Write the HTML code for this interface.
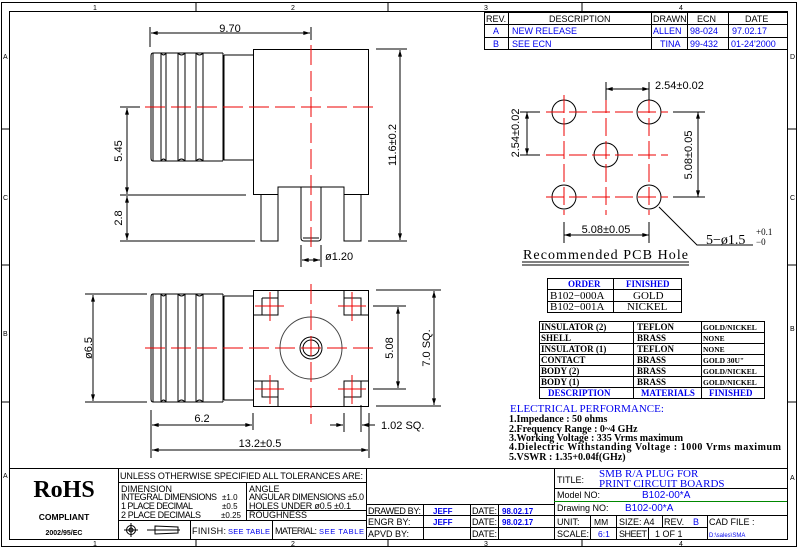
<!DOCTYPE html>
<html><head><meta charset="utf-8"><style>
html,body{margin:0;padding:0;background:#fff;}
svg{display:block;}
.s{font-family:"Liberation Sans",sans-serif;}
.r{font-family:"Liberation Serif",serif;font-weight:bold;}
</style></head><body>
<svg width="798" height="548" viewBox="0 0 798 548" xmlns="http://www.w3.org/2000/svg">
<defs>
<marker id="a" viewBox="0 0 10 6" refX="10" refY="3" markerWidth="7" markerHeight="4" orient="auto-start-reverse" markerUnits="userSpaceOnUse"><path d="M0,0 L10,3 L0,6 z" fill="#000"/></marker>
</defs>
<g fill="none" stroke="#000" stroke-width="1">
<rect x="1.5" y="2.5" width="795" height="544"/>
<rect x="9.5" y="11.5" width="778" height="528"/>
<line x1="196" y1="2" x2="196" y2="11"/><line x1="388" y1="2" x2="388" y2="11"/><line x1="582" y1="2" x2="582" y2="11"/>
<line x1="196" y1="540" x2="196" y2="547"/><line x1="388" y1="540" x2="388" y2="547"/><line x1="582" y1="540" x2="582" y2="547"/>
<line x1="1" y1="129" x2="9" y2="129"/><line x1="1" y1="265" x2="9" y2="265"/><line x1="1" y1="402" x2="9" y2="402"/>
<line x1="788" y1="129" x2="797" y2="129"/><line x1="788" y1="265" x2="797" y2="265"/><line x1="788" y1="402" x2="797" y2="402"/>
</g>
<g class="s" font-size="7" fill="#000">
<text x="93" y="10">1</text><text x="291" y="10">2</text><text x="484" y="10">3</text><text x="679" y="10">4</text>
<text x="93" y="546">1</text><text x="291" y="546">2</text><text x="484" y="546">3</text><text x="679" y="546">4</text>
<text x="3" y="59">A</text><text x="3" y="200">C</text><text x="3" y="336">B</text><text x="3" y="478">A</text>
<text x="790" y="59">D</text><text x="790" y="200">C</text><text x="790" y="331">B</text><text x="790" y="480">A</text>
</g>

<g fill="none" stroke="#000">
<rect x="484.5" y="12.5" width="303" height="37"/>
<line x1="484" y1="24.5" x2="787" y2="24.5"/><line x1="484" y1="37.5" x2="787" y2="37.5"/>
<line x1="508.5" y1="12" x2="508.5" y2="50"/><line x1="651.5" y1="12" x2="651.5" y2="50"/><line x1="687.5" y1="12" x2="687.5" y2="50"/><line x1="728.5" y1="12" x2="728.5" y2="50"/>
</g>
<g class="s" font-size="9">
<text x="486" y="22">REV.</text><text x="549" y="22">DESCRIPTION</text><text x="653" y="22">DRAWN</text><text x="697" y="22">ECN</text><text x="745" y="22">DATE</text>
<g fill="#0000ee"><text x="493" y="34">A</text><text x="512" y="34">NEW RELEASE</text><text x="653" y="34">ALLEN</text><text x="690" y="34">98-024</text><text x="732" y="34">97.02.17</text>
<text x="493" y="47">B</text><text x="512" y="47">SEE ECN</text><text x="660" y="47">TINA</text><text x="690" y="47">99-432</text><text x="731" y="47">01-24'2000</text></g>
</g>

<g fill="none" stroke="#000">
<circle cx="564" cy="112" r="12"/><circle cx="649" cy="112" r="12"/><circle cx="606" cy="155" r="12"/><circle cx="564" cy="197" r="12"/><circle cx="649" cy="197" r="12"/>
</g>
<g stroke="#e00" stroke-dasharray="18,5">
<line x1="546" y1="112" x2="668" y2="112"/><line x1="546" y1="155" x2="668" y2="155"/><line x1="546" y1="197" x2="668" y2="197"/>
<line x1="564" y1="95" x2="564" y2="215"/><line x1="606" y1="95" x2="606" y2="215"/><line x1="649" y1="95" x2="649" y2="215"/>
</g>
<g stroke="#000" fill="none">
<line x1="606" y1="82" x2="606" y2="100"/><line x1="649" y1="82" x2="649" y2="100"/>
<line x1="606" y1="89" x2="649" y2="89" marker-start="url(#a)" marker-end="url(#a)"/>
<line x1="520" y1="112" x2="540" y2="112"/><line x1="520" y1="155" x2="540" y2="155"/>
<line x1="527" y1="112" x2="527" y2="155" marker-start="url(#a)" marker-end="url(#a)"/>
<line x1="673" y1="112" x2="705" y2="112"/><line x1="673" y1="197" x2="705" y2="197"/>
<line x1="698" y1="112" x2="698" y2="197" marker-start="url(#a)" marker-end="url(#a)"/>
<line x1="564" y1="222" x2="564" y2="243"/><line x1="649" y1="222" x2="649" y2="243"/>
<line x1="564" y1="235" x2="649" y2="235" marker-start="url(#a)" marker-end="url(#a)"/>
<polyline points="659,207 697,245 753,245"/>
<line x1="522" y1="262" x2="689" y2="262"/><line x1="522" y1="265" x2="689" y2="265"/>
</g>
<g class="s" font-size="11">
<text x="655" y="89">2.54±0.02</text>
<text transform="translate(519,133) rotate(-90)" text-anchor="middle">2.54±0.02</text>
<text transform="translate(692,155) rotate(-90)" text-anchor="middle">5.08±0.05</text>
<text x="606" y="233" text-anchor="middle">5.08±0.05</text>
</g>
<text x="706" y="244" font-family="Liberation Serif,serif" font-size="14">5−ø1.5</text>
<text x="756" y="235" font-family="Liberation Serif,serif" font-size="9">+0.1</text>
<text x="756" y="245" font-family="Liberation Serif,serif" font-size="9">−0</text>
<text x="523" y="259" font-family="Liberation Serif,serif" font-size="14" textLength="165">Recommended PCB Hole</text>

<g fill="none" stroke="#000">
<line x1="150" y1="27" x2="150" y2="47"/><line x1="311" y1="27" x2="311" y2="40"/>
<line x1="151" y1="33" x2="310" y2="33" marker-start="url(#a)" marker-end="url(#a)"/>
<rect x="253.5" y="49.5" width="115" height="145" fill="#fff"/>
<path d="M153,53 h70 M153,161 h70 M151,56 q0,-3 2,-3 M151,158 q0,3 2,3 M151,56 V158" />
<path d="M153,53 V161 M161,53 V161 M166,53 V161 M178,53 V161 M185,53 V161 M196,53 V161 M203,53 V161 M223,53 V161"/>
<path d="M161,53 q2.5,4 5,0 M178,53 q3.5,4 7,0 M196,53 q3.5,4 7,0 M161,161 q2.5,-4 5,0 M178,161 q3.5,-4 7,0 M196,161 q3.5,-4 7,0"/>
<path d="M224,55 H253 M224,160 H253 M224,55 V160"/>
<path d="M261,195 V241 H278 V187 H344 V241 H361 V195" fill="#fff"/>
<path d="M301,187 V238 q0,3 3,3 H318 q3,0 3,-3 V187"/>
<line x1="303" y1="238" x2="319" y2="238"/>
<line x1="120" y1="107" x2="140" y2="107"/><line x1="120" y1="195" x2="246" y2="195"/><line x1="120" y1="241" x2="255" y2="241"/>
<line x1="127" y1="108" x2="127" y2="194" marker-start="url(#a)" marker-end="url(#a)"/>
<line x1="127" y1="196" x2="127" y2="240" marker-start="url(#a)" marker-end="url(#a)"/>
<line x1="376" y1="49" x2="407" y2="49"/><line x1="368" y1="241" x2="407" y2="241"/>
<line x1="400" y1="50" x2="400" y2="240" marker-start="url(#a)" marker-end="url(#a)"/>
<line x1="301" y1="245" x2="301" y2="267"/><line x1="321" y1="245" x2="321" y2="267"/>
<line x1="302" y1="260" x2="320" y2="260" marker-start="url(#a)" marker-end="url(#a)"/>
</g>
<g stroke="#e00" stroke-dasharray="20,6">
<line x1="145" y1="107" x2="374" y2="107"/><line x1="311" y1="45" x2="311" y2="247"/>
</g>
<g class="s" font-size="11">
<text x="230" y="32" text-anchor="middle">9.70</text>
<text transform="translate(122,151) rotate(-90)" text-anchor="middle">5.45</text>
<text transform="translate(122,218) rotate(-90)" text-anchor="middle">2.8</text>
<text transform="translate(396,145) rotate(-90)" text-anchor="middle">11.6±0.2</text>
<text x="325" y="260">ø1.20</text>
</g>

<g fill="none" stroke="#000">
<path d="M153,294 h70 M153,402 h70 M151,297 q0,-3 2,-3 M151,399 q0,3 2,3 M151,297 V399"/>
<path d="M153,294 V402 M161,294 V402 M166,294 V402 M178,294 V402 M185,294 V402 M196,294 V402 M203,294 V402 M223,294 V402"/>
<path d="M161,294 q2.5,4 5,0 M178,294 q3.5,4 7,0 M196,294 q3.5,4 7,0 M161,402 q2.5,-4 5,0 M178,402 q3.5,-4 7,0 M196,402 q3.5,-4 7,0"/>
<path d="M224,296 H253 M224,400 H253 M224,296 V400"/>
<rect x="253.5" y="290.5" width="115" height="116"/>
<path d="M278,290 V315 H253 M262,298 H278 M262,298 V315"/>
<path d="M344,290 V315 H369 M344,298 H361 V315"/>
<path d="M278,407 V381 H253 M262,381 V397 H278"/>
<path d="M344,407 V381 H369 M344,397 H361 V381"/>
<circle cx="311" cy="348" r="31" stroke="#444"/>
<circle cx="311" cy="348" r="11"/><circle cx="311" cy="348" r="8"/>
<line x1="85" y1="294" x2="147" y2="294"/><line x1="85" y1="402" x2="147" y2="402"/>
<line x1="93" y1="295" x2="93" y2="401" marker-start="url(#a)" marker-end="url(#a)"/>
<line x1="373" y1="306" x2="406" y2="306"/><line x1="373" y1="389" x2="406" y2="389"/>
<line x1="398" y1="307" x2="398" y2="388" marker-start="url(#a)" marker-end="url(#a)"/>
<line x1="376" y1="290" x2="441" y2="290"/><line x1="376" y1="406" x2="441" y2="406"/>
<line x1="434" y1="291" x2="434" y2="405" marker-start="url(#a)" marker-end="url(#a)"/>
<line x1="151" y1="410" x2="151" y2="458"/><line x1="253" y1="413" x2="253" y2="430"/><line x1="369" y1="413" x2="369" y2="458"/>
<line x1="152" y1="425" x2="252" y2="425" marker-start="url(#a)" marker-end="url(#a)"/>
<line x1="152" y1="450" x2="368" y2="450" marker-start="url(#a)" marker-end="url(#a)"/>
<line x1="344" y1="413" x2="344" y2="432"/><line x1="361" y1="405" x2="361" y2="432"/>
<line x1="330" y1="425" x2="343" y2="425" marker-end="url(#a)"/>
<line x1="375" y1="425" x2="362" y2="425" marker-end="url(#a)"/>
</g>
<g stroke="#e00">
<g stroke-dasharray="20,6"><line x1="145" y1="348" x2="374" y2="348"/><line x1="311" y1="284" x2="311" y2="424"/></g>
<path d="M255,306 H284 M270,292 V321 M338,306 H366 M352,292 V321 M255,389 H284 M270,375 V404 M338,389 H366 M352,375 V404"/>
</g>
<g class="s" font-size="11">
<text transform="translate(92,348) rotate(-90)" text-anchor="middle">ø6.5</text>
<text transform="translate(393,348) rotate(-90)" text-anchor="middle">5.08</text>
<text transform="translate(430,348) rotate(-90)" text-anchor="middle">7.0  SQ.</text>
<text x="202" y="422" text-anchor="middle">6.2</text>
<text x="260" y="447" text-anchor="middle">13.2±0.5</text>
<text x="381" y="429">1.02  SQ.</text>
</g>

<g fill="none" stroke="#000">
<rect x="547.5" y="278.5" width="134" height="34"/>
<line x1="547" y1="289.5" x2="681" y2="289.5"/><line x1="547" y1="301.5" x2="681" y2="301.5"/><line x1="613.5" y1="278" x2="613.5" y2="312"/>
<rect x="539.5" y="321.5" width="225" height="77"/>
<line x1="539" y1="332.5" x2="764" y2="332.5"/><line x1="539" y1="343.5" x2="764" y2="343.5"/><line x1="539" y1="354.5" x2="764" y2="354.5"/><line x1="539" y1="365.5" x2="764" y2="365.5"/><line x1="539" y1="376.5" x2="764" y2="376.5"/><line x1="539" y1="387.5" x2="764" y2="387.5"/>
<line x1="633.5" y1="321" x2="633.5" y2="398"/><line x1="701.5" y1="321" x2="701.5" y2="398"/>
</g>
<g class="r" font-size="9">
<text x="568" y="287" fill="#0000ee">ORDER</text><text x="626" y="287" fill="#0000ee">FINISHED</text>
<g font-weight="normal" font-size="11"><text x="550" y="299">B102−000A</text><text x="633" y="299">GOLD</text>
<text x="550" y="310">B102−001A</text><text x="627" y="310">NICKEL</text></g>
<text x="541" y="330">INSULATOR (2)</text><text x="637" y="330">TEFLON</text><text x="703" y="330" font-size="7.5">GOLD/NICKEL</text>
<text x="541" y="341">SHELL</text><text x="637" y="341">BRASS</text><text x="703" y="341" font-size="7.5">NONE</text>
<text x="541" y="352">INSULATOR (1)</text><text x="637" y="352">TEFLON</text><text x="703" y="352" font-size="7.5">NONE</text>
<text x="541" y="363">CONTACT</text><text x="637" y="363">BRASS</text><text x="703" y="363" font-size="7.5">GOLD 30U"</text>
<text x="541" y="374">BODY (2)</text><text x="637" y="374">BRASS</text><text x="703" y="374" font-size="7.5">GOLD/NICKEL</text>
<text x="541" y="385">BODY (1)</text><text x="637" y="385">BRASS</text><text x="703" y="385" font-size="7.5">GOLD/NICKEL</text>
<g fill="#0000ee"><text x="548" y="396">DESCRIPTION</text><text x="641" y="396">MATERIALS</text><text x="709" y="396">FINISHED</text></g>
</g>
<g font-family="Liberation Serif,serif" font-size="10" font-weight="bold">
<text x="510" y="412" fill="#0000ee" font-weight="normal" font-size="11">ELECTRICAL PERFORMANCE:</text>
<text x="509" y="422">1.Impedance : 50 ohms</text>
<text x="509" y="432">2.Frequency Range : 0~4 GHz</text>
<text x="509" y="441">3.Working Voltage : 335 Vrms maximum</text>
<text x="509" y="450" textLength="272">4.Dielectric Withstanding Voltage : 1000 Vrms maximum</text>
<text x="509" y="460">5.VSWR : 1.35+0.04f(GHz)</text>
</g>

<g fill="none" stroke="#000">
<line x1="9" y1="468.5" x2="787" y2="468.5"/>
<line x1="118.5" y1="468" x2="118.5" y2="540"/><line x1="366.5" y1="468" x2="366.5" y2="540"/><line x1="554.5" y1="468" x2="554.5" y2="540"/>
<line x1="118" y1="482.5" x2="366" y2="482.5"/><line x1="246.5" y1="482" x2="246.5" y2="520"/>
<line x1="246" y1="510.5" x2="366" y2="510.5"/><line x1="118" y1="520.5" x2="366" y2="520.5"/>
<line x1="190.5" y1="520" x2="190.5" y2="540"/><line x1="272.5" y1="520" x2="272.5" y2="540"/>
<line x1="366" y1="504.5" x2="554" y2="504.5"/><line x1="366" y1="515.5" x2="554" y2="515.5"/><line x1="366" y1="527.5" x2="554" y2="527.5"/>
<line x1="423.5" y1="504" x2="423.5" y2="540"/><line x1="470.5" y1="504" x2="470.5" y2="540"/><line x1="498.5" y1="504" x2="498.5" y2="540"/>
<line x1="554" y1="488.5" x2="787" y2="488.5"/><line x1="554" y1="501.5" x2="787" y2="501.5" stroke="#080"/>
<line x1="554" y1="515.5" x2="787" y2="515.5"/><line x1="554" y1="527.5" x2="707" y2="527.5"/>
<line x1="590.5" y1="515" x2="590.5" y2="540"/><line x1="616.5" y1="515" x2="616.5" y2="540"/><line x1="662.5" y1="515" x2="662.5" y2="527"/><line x1="648.5" y1="527" x2="648.5" y2="540"/><line x1="707.5" y1="515" x2="707.5" y2="540"/>
<circle cx="131" cy="530" r="4.5"/><circle cx="131" cy="530" r="2"/><path d="M124,530 H138 M131,523 V537 M147,530 H180 M155,526 L178,527 V533 L155,534 Z"/>
</g>
<text x="64" y="497" class="r" font-size="24" text-anchor="middle">RoHS</text>
<text x="64" y="520" class="s" font-weight="bold" font-size="8.5" text-anchor="middle">COMPLIANT</text>
<text x="64" y="535" class="s" font-weight="bold" font-size="7" text-anchor="middle">2002/95/EC</text>
<g class="s" font-size="9">
<text x="120" y="479" textLength="243">UNLESS OTHERWISE SPECIFIED ALL TOLERANCES ARE:</text>
<text x="121" y="492">DIMENSION</text>
<text x="121" y="500" textLength="96">INTEGRAL DIMENSIONS</text><text x="222" y="500" font-size="8">±1.0</text>
<text x="121" y="509" textLength="72">1 PLACE   DECIMAL</text><text x="222" y="509" font-size="8">±0.5</text>
<text x="121" y="518" textLength="80">2 PLACE   DECIMALS</text><text x="221" y="518" font-size="8">±0.25</text>
<text x="249" y="492">ANGLE</text>
<text x="249" y="500" textLength="115">ANGULAR DIMENSIONS ±5.0</text>
<text x="249" y="509" textLength="102">HOLES UNDER ø0.5 ±0.1</text>
<text x="249" y="518">ROUGHNESS</text>
<text x="192" y="534" textLength="34">FINISH:</text><text x="228" y="534" fill="#0000ee" font-size="7.5" textLength="42">SEE TABLE</text>
<text x="275" y="534" textLength="42">MATERIAL:</text><text x="319" y="534" fill="#0000ee" font-size="7.5" textLength="45">SEE TABLE</text>
<text x="368" y="514" textLength="53">DRAWED BY:</text><text x="368" y="525">ENGR BY:</text><text x="368" y="537">APVD BY:</text>
<text x="472" y="514" textLength="25">DATE:</text><text x="472" y="525" textLength="25">DATE:</text><text x="472" y="537" textLength="25">DATE:</text>
<g fill="#0000ee" font-size="8" font-weight="bold"><text x="433" y="514">JEFF</text><text x="433" y="525">JEFF</text><text x="502" y="514">98.02.17</text><text x="502" y="525">98.02.17</text></g>
<text x="557" y="483">TITLE:</text>
<text x="557" y="498">Model NO:</text><text x="557" y="511">Drawing NO:</text>
<text x="557" y="525">UNIT:</text><text x="594" y="525" font-size="8.5">MM</text><text x="619" y="525">SIZE: A4</text><text x="664" y="525">REV.</text><text x="693" y="525" fill="#0000ee">B</text><text x="709" y="525">CAD FILE :</text>
<text x="557" y="537">SCALE:</text><text x="598" y="537" fill="#0000ee" font-size="8.5">6:1</text><text x="619" y="537" textLength="28">SHEET</text><text x="655" y="537">1   OF   1</text>
<text x="709" y="537" fill="#0000ee" font-size="6">D:\sales\SMA</text>
</g>
<g font-family="Liberation Serif,serif" font-size="11" fill="#0000ee">
<text x="599" y="477">SMB R/A PLUG FOR</text><text x="599" y="487">PRINT CIRCUIT BOARDS</text>
<text x="642" y="498" font-size="10" font-family="Liberation Sans,sans-serif">B102-00*A</text>
<text x="625" y="511" font-size="10" font-family="Liberation Sans,sans-serif">B102-00*A</text>
</g>
</svg>
</body></html>
